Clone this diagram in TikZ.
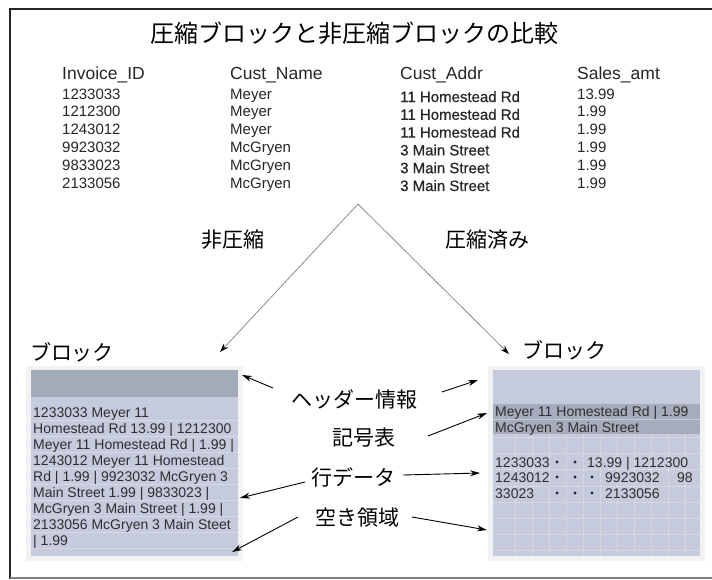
\documentclass[tikz,border=0pt]{standalone}
\usepackage{fontspec}
\setmainfont{Liberation Sans}
\newfontfamily\semib[FakeBold=0.5]{Liberation Sans}
\newfontfamily\jp{Noto Sans CJK JP}
\usetikzlibrary{arrows.meta}
\definecolor{hdrc}{RGB}{163,170,184}
\definecolor{bodyc}{RGB}{197,203,220}
\definecolor{bandc}{RGB}{166,172,187}
\definecolor{shadec}{RGB}{242,242,242}
\definecolor{gridc}{RGB}{226,224,220}
\begin{document}
\begin{tikzpicture}[x=1pt,y=-1pt,
  titletxt/.style={font=\jp\fontsize{24}{28}\selectfont, inner sep=0},
  lbl/.style={font=\jp\fontsize{21}{25}\selectfont, inner sep=0},
  colhead/.style={font=\fontsize{17.5}{20}\selectfont, anchor=base west, inner sep=0, text=black!85},
  cell/.style={font=\fontsize{15}{18}\selectfont, anchor=base west, inner sep=0, text=black!85},
  addrcell/.style={cell, font=\semib\fontsize{15}{18}\selectfont},
  btxt/.style={font=\fontsize{14}{16}\selectfont, anchor=base west, inner sep=0, text=black!82},
  split/.style={draw=black!45, line width=0.8pt, -{Stealth[length=9pt,width=6pt,color=black]}},
  pointer/.style={draw=black, line width=0.9pt, -{Stealth[length=10pt,width=6pt]}},
  gridline/.style={draw=gridc, line width=0.6pt, dash pattern=on 1.5pt off 1pt},
  faint/.style={draw=white, opacity=0.3, line width=0.6pt},
  dot/.style={fill=black!85}
]
\useasboundingbox (0,0) rectangle (712,579);
\fill[white] (0,0) rectangle (712,579);
% frame
\draw[line width=2.5pt, black!85] (10,579) -- (10,9) -- (712,9);
\draw[gray, line width=1.3pt] (10,578) -- (712,578);

% title
\node[titletxt] (title) at (354,33) {圧縮ブロックと非圧縮ブロックの比較};

% table
\node[colhead] (h1) at (62,79) {Invoice\_ID};
\node[colhead] (h2) at (230,79) {Cust\_Name};
\node[colhead] (h3) at (400,79) {Cust\_Addr};
\node[colhead] (h4) at (577,79) {Sales\_amt};
\foreach \id/\nm/\ad/\amt [count=\i] in {
  1233033/Meyer/11 Homestead Rd/13.99,
  1212300/Meyer/11 Homestead Rd/1.99,
  1243012/Meyer/11 Homestead Rd/1.99,
  9923032/McGryen/3 Main Street/1.99,
  9833023/McGryen/3 Main Street/1.99,
  2133056/McGryen/3 Main Street/1.99}{
  \pgfmathsetmacro\yb{99+17.8*(\i-1)}
  \node[cell] (id\i) at (62,\yb) {\id};
  \node[cell] (nm\i) at (230,\yb) {\nm};
  \node[addrcell] (ad\i) at (400,\yb+3) {\ad};
  \node[cell] (amt\i) at (577,\yb) {\amt};
}

% split arrows
\coordinate (apex) at (358,204);
\coordinate (tipL) at (220,352);
\coordinate (tipR) at (509,354);
\draw[split] (apex) -- (tipL);
\draw[split] (apex) -- (tipR);
\node[lbl] (unc) at (233,240) {非圧縮};
\node[lbl] (cmp) at (487,240) {圧縮済み};
\node[lbl] (blkL) at (72,352) {ブロック};
\node[lbl] (blkR) at (564,350) {ブロック};

% left block
\fill[shadec] (26,366) rectangle (243,561);
\fill[bodyc] (31,370) rectangle (238,556);
\fill[hdrc] (31,370) rectangle (238,397);
\foreach \k in {0,...,8}{
  \draw[faint] (31,420+16*\k) -- (238,420+16*\k);
}
\foreach \t [count=\i] in {
  1233033 Meyer 11,
  Homestead Rd 13.99 | 1212300,
  Meyer 11 Homestead Rd | 1.99 |,
  1243012 Meyer 11 Homestead,
  Rd | 1.99 | 9923032 McGryen 3,
  Main Street 1.99 | 9833023 |,
  McGryen 3 Main Street | 1.99 |,
  2133056 McGryen 3 Main Steet,
  | 1.99}{
  \node[btxt] (lt\i) at (33,417+16*\i-16) {\t};
}

% right block
\fill[shadec] (488,366) rectangle (705,561);
\fill[bodyc] (493,370) rectangle (700,556);
\fill[bandc] (493,404) rectangle (700,419);
\fill[bandc] (493,420) rectangle (700,434);
\foreach \x in {0,...,10}{
  \draw[gridline] (515+17*\x,435) -- (515+17*\x,556);
}
\foreach \y in {437,453,469,486,502,518,534,550}{
  \draw[gridline] (493,\y) -- (700,\y);
}
\node[btxt] (b1) at (495,416) {Meyer 11 Homestead Rd | 1.99};
\node[btxt] (b2) at (495,432) {McGryen 3 Main Street};
\node[btxt] (r1a) at (495,467) {1233033};
\fill[dot] (557,462) circle (1.7) (575,462) circle (1.7);
\node[btxt] (r1b) at (587,467) {13.99 | 1212300};
\node[btxt] (r2a) at (495,482) {1243012};
\fill[dot] (557,477) circle (1.7) (575,477) circle (1.7) (592,477) circle (1.7);
\node[btxt] (r2b) at (605,482) {9923032};
\node[btxt] (r2c) at (677,482) {98};
\node[btxt] (r3a) at (495,498) {33023};
\fill[dot] (557,493) circle (1.7) (575,493) circle (1.7) (592,493) circle (1.7);
\node[btxt] (r3b) at (605,498) {2133056};

% labels
\node[lbl] (lhead) at (354,399) {ヘッダー情報};
\node[lbl] (lsym) at (364,438) {記号表};
\node[lbl] (lrow) at (353,477) {行データ};
\node[lbl] (lfree) at (357,518) {空き領域};

\coordinate (hLs) at (273,388); \coordinate (hLe) at (242,375);
\coordinate (hRs) at (442,392); \coordinate (hRe) at (478,380);
\coordinate (sRs) at (428,436); \coordinate (sRe) at (487,413);
\coordinate (rLs) at (305,482); \coordinate (rLe) at (240,498);
\coordinate (rRs) at (403,475); \coordinate (rRe) at (480,473);
\coordinate (fLs) at (298,517); \coordinate (fLe) at (232,552);
\coordinate (fRs) at (412,517); \coordinate (fRe) at (487,530);
\draw[pointer] (hLs) -- (hLe);
\draw[pointer] (hRs) -- (hRe);
\draw[pointer] (sRs) -- (sRe);
\draw[pointer] (rLs) -- (rLe);
\draw[pointer] (rRs) -- (rRe);
\draw[pointer] (fLs) -- (fLe);
\draw[pointer] (fRs) -- (fRe);
\end{tikzpicture}
\end{document}
